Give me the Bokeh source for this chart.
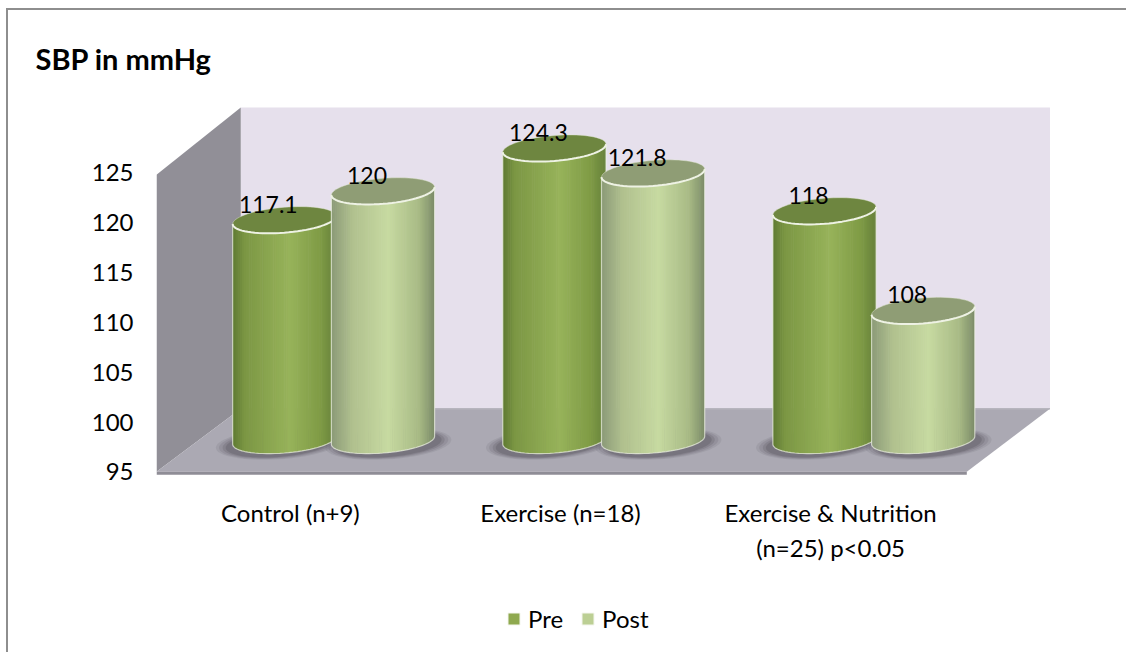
import numpy as np
from bokeh.plotting import figure
from bokeh.embed import file_html
from bokeh.resources import INLINE
from bokeh.models import (Range1d, FixedTicker, Legend, LegendItem, ColumnDataSource)
from bokeh.core.properties import value

# ---- data ----
categories = ["Control (n+9)", "Exercise (n=18)", "Exercise & Nutrition\n(n=25) p<0.05"]
pre_values = [117.1, 124.3, 118]
post_values = [120, 121.8, 108]
pre_labels = ["117.1", "124.3", "118"]
post_labels = ["120", "121.8", "108"]
y_ticks = [95, 100, 105, 110, 115, 120, 125]
series_names = ["Pre", "Post"]
chart_title = "SBP in mmHg"

# ---- 3D scene geometry, in axis units ----
Y_MIN = 95
X_UNIT_PX, Y_UNIT_PX = 269.5, 9.93
LEFT, RIGHT = -0.6558, 2.6985
FRONT_L, BACK_L, BACK_R, FRONT_R = LEFT, -0.3438, 2.6522, 2.3442
FLOOR_BACK = Y_MIN + 6.34
WALL_FRONT_TOP = 124.8
WALL_BACK_TOP = 131.55
BASE = Y_MIN + 3.17
OFF = 49.25 / X_UNIT_PX
A = 51.5 / X_UNIT_PX
B = 12.7 / Y_UNIT_PX
TILT = 4.0 / Y_UNIT_PX
LABEL_TICKS = [-0.16, 0.84, 1.84]

FONT = "Lato"
PRE_STOPS = [(0, "#5f7a32"), (0.12, "#7c9744"), (0.55, "#97b35a"), (0.85, "#7f9b45"), (1, "#65803a")]
POST_STOPS = [(0, "#8b9a78"), (0.2, "#b0c08e"), (0.55, "#c7daa1"), (0.85, "#a8ba85"), (1, "#7b8b68")]
PRE_TOP, POST_TOP = "#6e8640", "#8f9d75"
PRE_SWATCH, POST_SWATCH = "#8fa94f", "#bccf94"


def shade(stops, f):
    xs = [s[0] for s in stops]
    rgb = [[int(s[1][i:i + 2], 16) for s in stops] for i in (1, 3, 5)]
    return "#%02x%02x%02x" % tuple(int(round(np.interp(f, xs, c))) for c in rgb)


p = figure(width=1120, height=644, output_backend="svg", toolbar_location=None,
           x_range=Range1d(LEFT, RIGHT), y_range=Range1d(77.88, 132.26),
           min_border_left=148, min_border_right=66, min_border_top=90, min_border_bottom=12,
           background_fill_color=None, border_fill_color="white", outline_line_color=None,
           title=chart_title)
p.styles = {"margin-left": "6px", "margin-top": "8px",
            "border-left": "2px solid #8e8e8e", "border-top": "2px solid #8e8e8e"}
p.grid.visible = False

p.title.text_font = FONT
p.title.text_font_size = "29px"
p.title.text_font_style = "bold"
p.title.text_color = "#000000"
p.title.align = "left"
p.title.offset = -121
p.title.standoff = 50

for ax in (p.xaxis[0], p.yaxis[0]):
    ax.axis_line_color = None
    ax.major_tick_line_color = None
    ax.minor_tick_line_color = None
    ax.major_label_text_font = FONT
    ax.major_label_text_font_size = "24px"
    ax.major_label_text_color = "#000000"
p.yaxis[0].ticker = FixedTicker(ticks=y_ticks)
p.yaxis[0].major_label_standoff = 17
p.xaxis[0].ticker = FixedTicker(ticks=LABEL_TICKS)
p.xaxis[0].major_label_overrides = dict(zip(LABEL_TICKS, categories))
p.xaxis[0].major_label_standoff = 15
p.xaxis[0].fixed_location = 94.5

# walls and floor
p.patch([BACK_L, BACK_R, BACK_R, BACK_L], [FLOOR_BACK, FLOOR_BACK, WALL_BACK_TOP, WALL_BACK_TOP],
        fill_color="#e6e0ec", line_color=None)
p.patch([FRONT_L, BACK_L, BACK_L, FRONT_L], [Y_MIN, FLOOR_BACK, WALL_BACK_TOP, WALL_FRONT_TOP],
        fill_color="#918f97", line_color=None)
p.patch([FRONT_L, BACK_L, BACK_R, FRONT_R], [Y_MIN, FLOOR_BACK, FLOOR_BACK, Y_MIN],
        fill_color="#aba9b3", line_color=None)
p.line([FRONT_L, FRONT_R], [Y_MIN - 0.15, Y_MIN - 0.15], line_color="#8f8d96", line_width=3)
p.line([BACK_L, BACK_R], [FLOOR_BACK, FLOOR_BACK], line_color="#b7b5be", line_width=1.5)

t = np.linspace(0, 2 * np.pi, 73)
u = np.linspace(-1, 1, 57)


def ellipse(cx, cy, a=A, b=B):
    return cx + a * np.cos(t), cy + b * np.sin(t) + TILT * np.cos(t)


# shadows under the cylinders
for i in range(3):
    for cx, shift in ((i - OFF, -0.02), (i + OFF, 0.02)):
        for k, alpha in ((1.22, 0.12), (1.16, 0.16), (1.09, 0.22), (1.03, 0.3)):
            xs, ys = ellipse(cx + shift, BASE - 0.35, A * k, B * k)
            p.patch(xs, ys, fill_color="#55535c", fill_alpha=alpha, line_color=None)


def cylinder(cx, val, stops, top_color):
    top = val + BASE - Y_MIN
    xsl, ysl, cols = [], [], []
    for j in range(len(u) - 1):
        ua, ub = u[j], min(u[j + 1] + 0.012, 1.0)
        seg = np.array([ua, ub])
        x = cx + A * seg
        low = BASE - B * np.sqrt(1 - seg ** 2) + TILT * seg
        high = top - B * np.sqrt(1 - seg ** 2) + TILT * seg
        xsl.append([x[0], x[1], x[1], x[0]])
        ysl.append([low[0], low[1], high[1], high[0]])
        cols.append(shade(stops, (ua + u[j + 1]) / 2 * 0.5 + 0.5))
    p.patches(xsl, ysl, fill_color=cols, line_color=None)
    xs, ys = ellipse(cx, top)
    p.patch(xs, ys, fill_color=top_color, line_color="#dfe5d0", line_width=0.8, line_alpha=0.6)
    # bright rim: front of the lid, sides and base
    front = t[36:]
    rx = cx + A * np.cos(front)
    p.line(rx, top + B * np.sin(front) + TILT * np.cos(front), line_color="#eef2e4", line_width=2)
    bx = cx + A * np.cos(front)
    by = BASE + B * np.sin(front) + TILT * np.cos(front)
    p.line(np.r_[cx - A, bx, cx + A], np.r_[top - TILT, by, top + TILT],
           line_color="#eef2e4", line_width=1.2, line_alpha=0.7)


for i in range(3):
    cylinder(i - OFF, pre_values[i], PRE_STOPS, PRE_TOP)
    cylinder(i + OFF, post_values[i], POST_STOPS, POST_TOP)

# value labels
xs_lab = [i - OFF for i in range(3)] + [i + OFF for i in range(3)]
ys_lab = [v + BASE - Y_MIN for v in pre_values + post_values]
src = ColumnDataSource(dict(x=xs_lab, y=ys_lab, text=pre_labels + post_labels))
p.text(x="x", y="y", text="text", source=src, text_font=value(FONT), text_font_size="23px",
       text_color="#000000", text_align="center", text_baseline="middle", x_offset=-16, y_offset=-16)

# legend
r_pre = p.quad(left=[np.nan], right=[np.nan], top=[np.nan], bottom=[np.nan],
               fill_color=PRE_SWATCH, line_color="#f4f6ee", line_width=1)
r_post = p.quad(left=[np.nan], right=[np.nan], top=[np.nan], bottom=[np.nan],
                fill_color=POST_SWATCH, line_color="#f4f6ee", line_width=1)
legend = Legend(items=[LegendItem(label=series_names[0], renderers=[r_pre]),
                       LegendItem(label=series_names[1], renderers=[r_post])],
                location=(350, 9), orientation="horizontal",
                background_fill_alpha=0, border_line_color=None, margin=0, padding=0,
                glyph_width=15, glyph_height=15, label_standoff=7, spacing=17,
                label_text_font=FONT, label_text_font_size="24px", label_text_color="#000000")
p.add_layout(legend)

open("out.html", "w").write(file_html(p, INLINE))
